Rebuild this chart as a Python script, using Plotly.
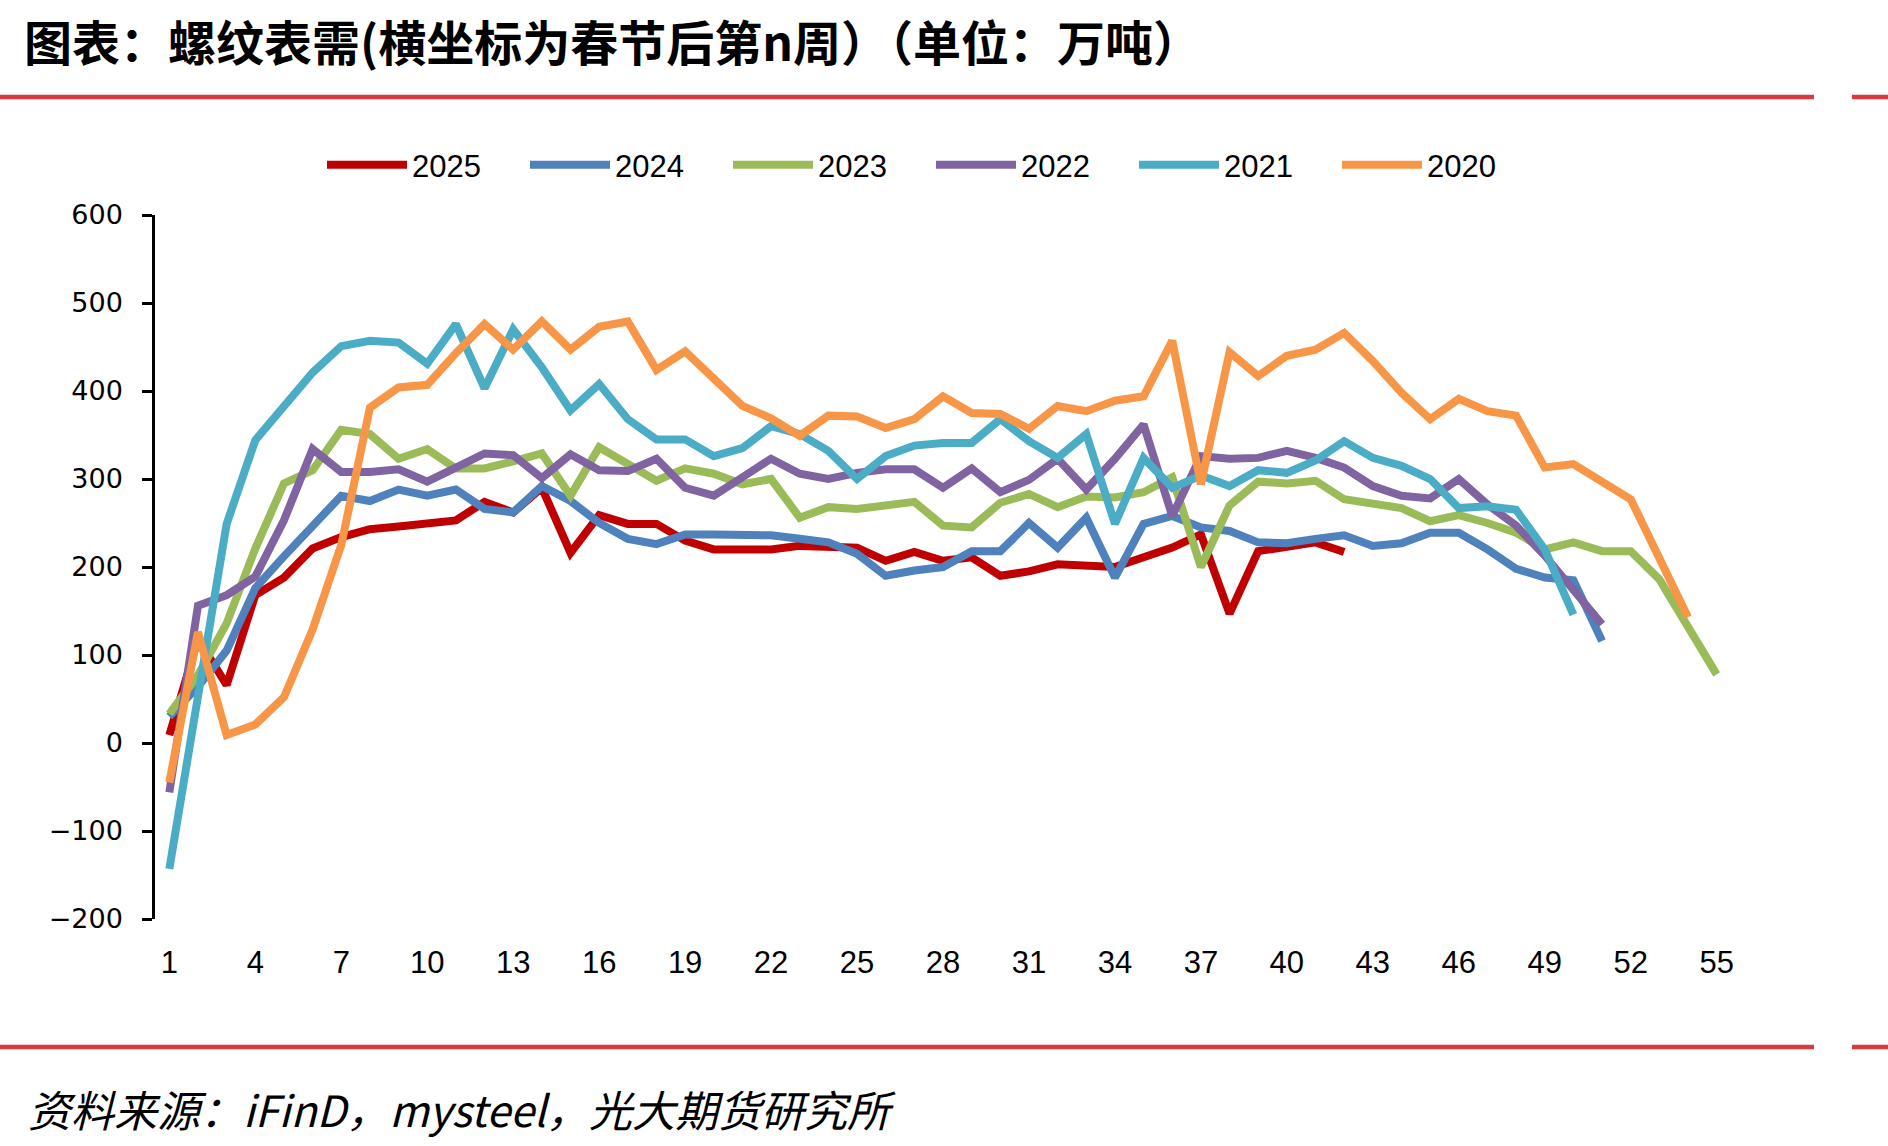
import plotly.graph_objects as go

# ---------------- data ----------------
weeks_all = list(range(1, 56))
tick_labels = [1, 4, 7, 10, 13, 16, 19, 22, 25, 28, 31, 34, 37, 40, 43, 46, 49, 52, 55]

years = ["2025", "2024", "2023", "2022", "2021", "2020"]
colors = ["#C00000", "#4F81BD", "#9BBB59", "#8064A2", "#4BACC6", "#F79646"]

v2025 = [9, 118, 66, 168, 188, 221, 234, 243, 246, 250, 253, 274, 262, 290, 216, 259, 249, 249, 230, 220,
         220, 220, 224, 224, 222, 207, 217, 207, 211, 190, 195, 203, 201, 200, 211, 222, 237, 147, 218, 222,
         228, 217]
v2024 = [30, 64, 105, 176, 212, 247, 281, 275, 288, 281, 288, 266, 262, 292, 275, 250, 232, 226, 237, 237,
         236, 236, 232, 228, 215, 190, 196, 200, 218, 218, 250, 222, 256, 188, 249, 258, 245, 241, 228, 227,
         232, 236, 224, 227, 239, 239, 220, 198, 188, 185, 116]
v2023 = [33, 77, 136, 221, 295, 310, 356, 351, 323, 334, 312, 312, 320, 329, 281, 336, 317, 298, 312, 306,
         294, 300, 256, 268, 266, 270, 274, 247, 245, 273, 283, 268, 280, 279, 285, 302, 200, 270, 297, 295,
         298, 277, 273, 267, 252, 259, 250, 239, 220, 228, 218, 218, 186, 131, 78]
v2022 = [-56, 156, 168, 189, 253, 334, 308, 308, 311, 297, 313, 329, 327, 301, 328, 310, 309, 323, 290, 281,
         302, 323, 306, 300, 307, 311, 311, 290, 312, 285, 299, 323, 288, 323, 362, 258, 326, 323, 324, 332,
         324, 313, 292, 281, 278, 300, 271, 247, 213, 175, 135]
v2021 = [-143, 54, 249, 344, 384, 421, 451, 457, 455, 431, 476, 403, 470, 427, 378, 408, 368, 345, 345, 326,
         335, 360, 351, 332, 300, 326, 338, 341, 341, 368, 343, 324, 351, 249, 324, 290, 304, 292, 310, 307,
         321, 343, 324, 315, 300, 267, 269, 265, 220, 146]
v2020 = [-45, 126, 9, 21, 52, 129, 225, 381, 404, 407, 443, 476, 447, 479, 447, 473, 479, 424, 445, 413,
         383, 369, 349, 372, 371, 358, 368, 394, 375, 374, 357, 383, 377, 389, 394, 457, 294, 444, 417, 440,
         447, 466, 434, 398, 368, 391, 377, 372, 313, 317, 298, 277, 210, 143]

series = [v2025, v2024, v2023, v2022, v2021, v2020]

title_text = "图表：螺纹表需(横坐标为春节后第n周）（单位：万吨）"
source_text = "资料来源：iFinD，mysteel，光大期货研究所"

# ---------------- figure ----------------
W, H = 1888, 1146
L, R, T, B = 155, 157, 215, 227
plot_h = H - T - B
plot_w = W - L - R

def px_x(x):
    return (x - L) / plot_w

def px_y(y):
    return (H - B - y) / plot_h

fig = go.Figure()
for name, col, vals in zip(years, colors, series):
    fig.add_trace(go.Scatter(
        x=weeks_all[:len(vals)], y=vals, name=name, mode="lines",
        line=dict(color=col, width=8),
    ))

narrow = "Liberation Sans Narrow, Arial Narrow, Liberation Sans, sans-serif"
ymin, ymax = -200, 600
boundaries = [t - 0.5 for t in tick_labels[1:]]

fig.update_layout(
    width=W, height=H,
    margin=dict(l=L, r=R, t=T, b=B),
    paper_bgcolor="white", plot_bgcolor="white",
    showlegend=True,
    legend=dict(
        orientation="h", x=px_x(322), y=px_y(165), xanchor="left", yanchor="middle",
        font=dict(family=narrow, size=31, color="black"),
        entrywidth=108, entrywidthmode="pixels", itemwidth=80,
        bgcolor="rgba(0,0,0,0)",
    ),
    xaxis=dict(
        range=[0.5, 55.5], tickmode="array", tickvals=tick_labels,
        ticktext=[str(t) for t in tick_labels],
        ticks="", showline=False, showgrid=False, zeroline=False,
        tickfont=dict(family=narrow, size=31, color="black"),
        ticklabelstandoff=22,
    ),
    xaxis2=dict(
        overlaying="x", anchor="free", position=(0 - ymin) / (ymax - ymin),
        range=[0.5, 55.5], tickmode="array", tickvals=boundaries,
        ticks="outside", ticklen=10, tickwidth=2.5, tickcolor="black",
        showticklabels=False, showline=True, linecolor="black", linewidth=2.5,
        showgrid=False, zeroline=False,
    ),
    yaxis=dict(
        range=[ymin, ymax], tickmode="linear", tick0=0, dtick=100,
        ticks="outside", ticklen=10, tickwidth=2.5, tickcolor="black",
        showline=True, linecolor="black", linewidth=2.5,
        showgrid=False, zeroline=False,
        tickfont=dict(family="DejaVu Sans, sans-serif", size=27, color="black"),
        ticklabelstandoff=14,
    ),
)

# decorative red rules
red = "#D9393F"
for yy in (97, 1047):
    fig.add_shape(type="line", xref="paper", yref="paper",
                  x0=px_x(0), x1=px_x(1814), y0=px_y(yy), y1=px_y(yy),
                  line=dict(color=red, width=4.5))
    fig.add_shape(type="line", xref="paper", yref="paper",
                  x0=px_x(1852), x1=px_x(1888), y0=px_y(yy), y1=px_y(yy),
                  line=dict(color=red, width=4.5))

fig.add_annotation(text=title_text, xref="paper", yref="paper",
                   x=px_x(22), y=px_y(40), xanchor="left", yanchor="middle",
                   showarrow=False,
                   font=dict(family="Noto Sans CJK SC", size=48, color="black", weight="bold"))
fig.add_annotation(text=source_text, xref="paper", yref="paper",
                   x=px_x(26), y=px_y(1108), xanchor="left", yanchor="middle",
                   showarrow=False,
                   font=dict(family="Noto Sans CJK SC", size=43, color="black", style="italic"))

fig.write_html("out.html")
